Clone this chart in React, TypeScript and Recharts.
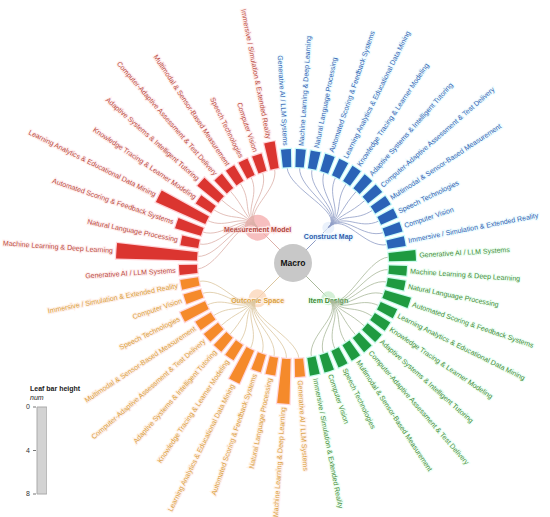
import React from "react";
import {
  RadialBarChart,
  RadialBar,
  PolarAngleAxis,
  PolarRadiusAxis,
  Sector,
  Customized,
  BarChart,
  Bar,
  XAxis,
  YAxis,
} from "recharts";

// ---------- data ----------
const technologies = [
  "Generative AI / LLM Systems",
  "Machine Learning & Deep Learning",
  "Natural Language Processing",
  "Automated Scoring & Feedback Systems",
  "Learning Analytics & Educational Data Mining",
  "Knowledge Tracing & Learner Modeling",
  "Adaptive Systems & Intelligent Tutoring",
  "Computer-Adaptive Assessment & Test Delivery",
  "Multimodal & Sensor-Based Measurement",
  "Speech Technologies",
  "Computer Vision",
  "Immersive / Simulation & Extended Reality",
];

// groups in clockwise order starting at 12 o'clock
const groups = ["Construct Map", "Item Design", "Outcome Space", "Measurement Model"];

const constructMapValues = [1, 1, 1, 1, 1, 1, 1, 1, 1, 1, 1, 1];
const itemDesignValues = [2, 1, 1, 2, 1, 1, 1, 1, 1, 1, 1, 1];
const outcomeSpaceValues = [1, 4, 1, 1, 3, 1, 1, 1, 1, 2, 1, 1];
const measurementModelValues = [1, 8, 1, 2, 5, 1, 2, 1, 1, 1, 1, 2];

const groupValues = [constructMapValues, itemDesignValues, outcomeSpaceValues, measurementModelValues];

const rootLabel = "Macro";
const legendTitle = "Leaf bar height";
const legendSubtitle = "num";
const legendTicks = [0, 4, 8];
const legendData = [{ name: "leaf", v: 8 }];

// ---------- styles ----------
const barFill = ["#2b63b7", "#1f9a40", "#f58a2b", "#db3530"];
const barHalo = ["#c8fbfb", "#c8fbec", "#ffd6dc", "#ffd3d8"];
const labelColor = ["#3262b2", "#3f8b36", "#d9a03c", "#b9483c"];
const labelHalo = ["#eefcff", "#effff4", "#fff1ea", "#fff0f0"];
const linkColor = ["#8f9dc6", "#a9b99b", "#dcc7a0", "#dcb0a8"];
const nodeFill = ["#e3ecfa", "#c6ebca", "#fbd4b6", "#f4a9a9"];
const nodeLabelColor = ["#2d5cab", "#3c8a36", "#d9a03c", "#b0443a"];
const nodeLabelHalo = ["#eef8ff", "#effff2", "#fff1e6", "#ffe8e8"];

const FONT = "'Liberation Sans', Arial, Helvetica, sans-serif";
const CX = 293;
const CY = 263;
const INNER_R = 96;
const OUTER_R = 177;
const NODE_R = 50;
const MACRO_R = 19;
const BAR_BASE = -1;

const data = groups.flatMap((g, gi) =>
  technologies.map((t, ti) => ({
    id: `${g}|${t}`,
    group: g,
    tech: t,
    gi,
    value: groupValues[gi][ti],
  }))
);

const groupSums = groupValues.map((vs) => vs.reduce((a, b) => a + b, 0));

function polar(cx: number, cy: number, r: number, a: number): [number, number] {
  const rad = (-a * Math.PI) / 180;
  return [cx + r * Math.cos(rad), cy + r * Math.sin(rad)];
}
const groupAngle = (gi: number) => 45 - 90 * gi;

function LeafShape(props: any) {
  const { cx, cy, innerRadius, outerRadius, startAngle, endAngle, payload } = props;
  const gi = payload.gi;
  const mid = (startAngle + endAngle) / 2;
  const ga = groupAngle(gi);
  const [nx, ny] = polar(cx, cy, NODE_R, ga);
  const rm = (NODE_R + innerRadius) / 2;
  const [c1x, c1y] = polar(cx, cy, rm, ga);
  const [c2x, c2y] = polar(cx, cy, rm, mid);
  const [lx, ly] = polar(cx, cy, innerRadius, mid);
  const [tx, ty] = polar(cx, cy, outerRadius + 3.5, mid);
  const right = Math.cos((mid * Math.PI) / 180) > 0;
  const rot = right ? -mid : -mid + 180;
  return (
    <g>
      <path
        d={`M${nx},${ny}C${c1x},${c1y} ${c2x},${c2y} ${lx},${ly}`}
        fill="none"
        stroke={linkColor[gi]}
        strokeWidth={0.8}
      />
      <Sector
        cx={cx}
        cy={cy}
        innerRadius={innerRadius}
        outerRadius={outerRadius}
        startAngle={startAngle}
        endAngle={endAngle}
        fill={barFill[gi]}
        stroke={barHalo[gi]}
        strokeWidth={2.5}
        style={{ paintOrder: "stroke" }}
      />
      <text
        x={tx}
        y={ty}
        transform={`rotate(${rot},${tx},${ty})`}
        textAnchor={right ? "start" : "end"}
        dy="0.35em"
        fontSize={7}
        fontFamily={FONT}
        fill={labelColor[gi]}
        stroke={labelHalo[gi]}
        strokeWidth={2.2}
        style={{ paintOrder: "stroke" }}
      >
        {payload.tech}
      </text>
    </g>
  );
}

function CenterNodes() {
  return (
    <g>
      {groups.map((g, gi) => {
        const [nx, ny] = polar(CX, CY, NODE_R, groupAngle(gi));
        return <line key={`l${gi}`} x1={CX} y1={CY} x2={nx} y2={ny} stroke={linkColor[gi]} strokeWidth={1} />;
      })}
      {groups.map((g, gi) => {
        const [nx, ny] = polar(CX, CY, NODE_R, groupAngle(gi));
        return (
          <circle key={`c${gi}`} cx={nx} cy={ny} r={groupSums[gi] * 0.5} fill={nodeFill[gi]} fillOpacity={0.75} />
        );
      })}
      <circle cx={CX} cy={CY} r={MACRO_R} fill="#c8c8c8" />
      <text
        x={CX}
        y={CY}
        dy="0.35em"
        textAnchor="middle"
        fontSize={8.5}
        fontWeight="bold"
        fontFamily={FONT}
        fill="#111"
      >
        {rootLabel}
      </text>
      {groups.map((g, gi) => {
        const [nx, ny] = polar(CX, CY, NODE_R, groupAngle(gi));
        const yOff = gi === 0 ? 9 : 2;
        return (
          <text
            key={`t${gi}`}
            x={nx}
            y={ny + yOff}
            dy="0.35em"
            textAnchor="middle"
            fontSize={7}
            fontWeight="bold"
            fontFamily={FONT}
            fill={nodeLabelColor[gi]}
            stroke={nodeLabelHalo[gi]}
            strokeWidth={2.5}
            style={{ paintOrder: "stroke" }}
          >
            {g}
          </text>
        );
      })}
    </g>
  );
}

export default function App() {
  return (
    <div style={{ position: "absolute", left: 0, top: 0, width: 550, height: 517, background: "#fff" }}>
      <div style={{ position: "absolute", left: 0, top: 0 }}>
        <RadialBarChart
          width={550}
          height={517}
          data={data}
          cx={CX}
          cy={CY}
          innerRadius={INNER_R}
          outerRadius={OUTER_R}
          startAngle={90}
          endAngle={-270}
          layout="centric"
          barCategoryGap="14%"
          margin={{ top: 0, right: 0, bottom: 0, left: 0 }}
        >
          <PolarAngleAxis type="category" dataKey="id" axisLine={false} tick={false} tickLine={false} />
          <PolarRadiusAxis type="number" domain={[BAR_BASE, 8]} axisLine={false} tick={false} tickLine={false} />
          <RadialBar
            dataKey={(d: any) => [BAR_BASE, d.value]}
            isAnimationActive={false}
            shape={LeafShape}
          />
          <Customized component={<CenterNodes />} />
        </RadialBarChart>
      </div>
      <div
        style={{
          position: "absolute",
          left: 30,
          top: 385,
          fontFamily: FONT,
          fontSize: 7,
          lineHeight: "8.5px",
          color: "#222",
        }}
      >
        <div style={{ fontWeight: "bold" }}>{legendTitle}</div>
        <div style={{ fontStyle: "italic" }}>{legendSubtitle}</div>
      </div>
      <div style={{ position: "absolute", left: 20, top: 401 }}>
        <BarChart
          width={27}
          height={99}
          data={legendData}
          margin={{ top: 6, right: 0, bottom: 6, left: 0 }}
          barCategoryGap={0}
        >
          <XAxis dataKey="name" hide />
          <YAxis
            type="number"
            domain={[0, 8]}
            reversed
            ticks={legendTicks}
            width={16}
            axisLine={false}
            tickSize={3}
            tickMargin={3}
            tick={{ fontSize: 7, fill: "#333", fontFamily: FONT }}
            tickLine={{ stroke: "#777" }}
            interval={0}
          />
          <Bar dataKey="v" fill="#d3d3d3" stroke="#aaaaaa" strokeWidth={1} barSize={11} isAnimationActive={false} />
        </BarChart>
      </div>
    </div>
  );
}
